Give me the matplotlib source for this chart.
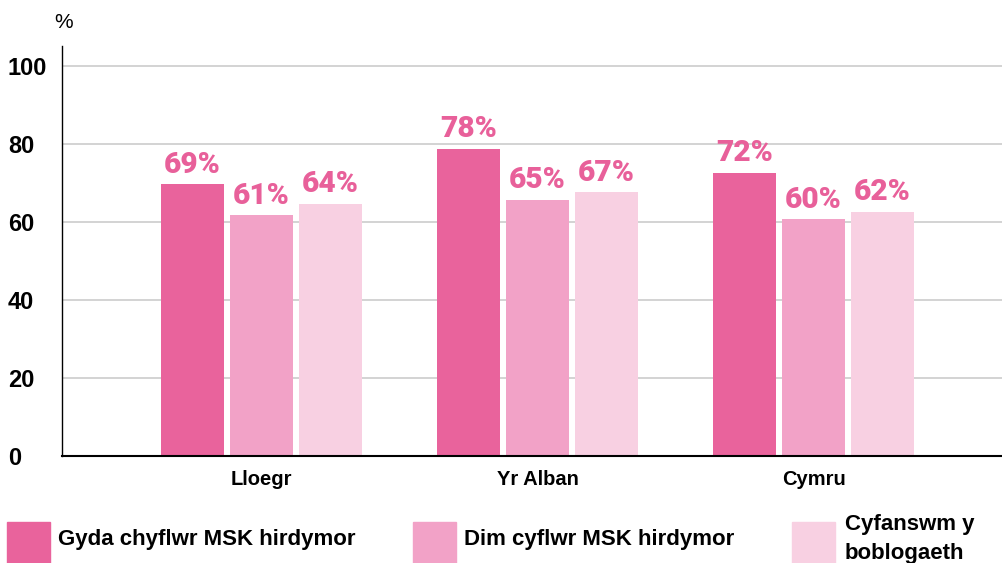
import matplotlib
matplotlib.use("Agg")
import matplotlib.pyplot as plt
import numpy as np
from matplotlib.patches import Rectangle

# data
countries = ["Lloegr", "Yr Alban", "Cymru"]
series_names = ["Gyda chyflwr MSK hirdymor", "Dim cyflwr MSK hirdymor", "Cyfanswm y\nboblogaeth"]
msk = [69.6, 78.7, 72.6]
no_msk = [61.6, 65.6, 60.6]
total = [64.6, 67.5, 62.6]
msk_labels = [69, 78, 72]
no_msk_labels = [61, 65, 60]
total_labels = [64, 67, 62]
yticks = [0, 20, 40, 60, 80, 100]

colors = ["#e9639c", "#f2a2c7", "#f8d0e2"]
label_color = "#e8609a"
main_font = ["Liberation Sans", "DejaVu Sans"]
label_font = ["Roboto", "DejaVu Sans"]

fig = plt.figure(figsize=(10.02, 5.63), dpi=100)
ax = fig.add_axes([62/1002, (563-456)/563, 940/1002, (456-46)/563])

x = np.arange(len(countries))
width = 0.228
offset = 0.25
series = [msk, no_msk, total]
labels = [msk_labels, no_msk_labels, total_labels]
for i, (vals, labs) in enumerate(zip(series, labels)):
    xs = x + (i - 1) * offset
    ax.bar(xs, vals, width=width, color=colors[i], zorder=2)
    for xi, v, l in zip(xs, vals, labs):
        ax.annotate(f"{l}%", (xi, v), xytext=(0, 4), textcoords="offset points",
                    ha="center", va="bottom", fontsize=21.5, fontweight="black",
                    color=label_color, family=label_font)

ax.set_xlim(-0.723, 2.683)
ax.set_ylim(0, 105)
ax.set_yticks(yticks)
ax.set_yticklabels([str(t) for t in yticks], fontsize=17, fontweight="bold", family=main_font)
ax.set_xticks(x)
ax.set_xticklabels(countries, fontsize=14.5, fontweight="bold", family=main_font)
ax.tick_params(axis="y", length=0, pad=39)
ax.tick_params(axis="x", length=0, pad=10)
for lab in ax.get_yticklabels():
    lab.set_horizontalalignment("left")
ax.grid(axis="y", color="#cccccc", linewidth=1.2, zorder=0)
ax.set_axisbelow(True)
for s in ["top", "right"]:
    ax.spines[s].set_visible(False)
ax.spines["left"].set_linewidth(1.0)
ax.spines["bottom"].set_linewidth(1.5)
ax.spines["bottom"].set_zorder(3)

fig.text(54/1002, 1 - 22/563, "%", fontsize=15, family=main_font, va="center", ha="left")

# legend drawn by hand
leg_x = [7, 413, 792]
txt_x = [58, 464, 845]
for i in range(3):
    fig.patches.append(Rectangle((leg_x[i]/1002, 0), 43/1002, 41/563,
                                 transform=fig.transFigure, color=colors[i]))
    fig.text(txt_x[i]/1002, 1 - 539/563, series_names[i], fontsize=16,
             fontweight="bold", family=main_font, va="center", ha="left",
             linespacing=1.45)

fig.savefig("out.png", dpi=100)
